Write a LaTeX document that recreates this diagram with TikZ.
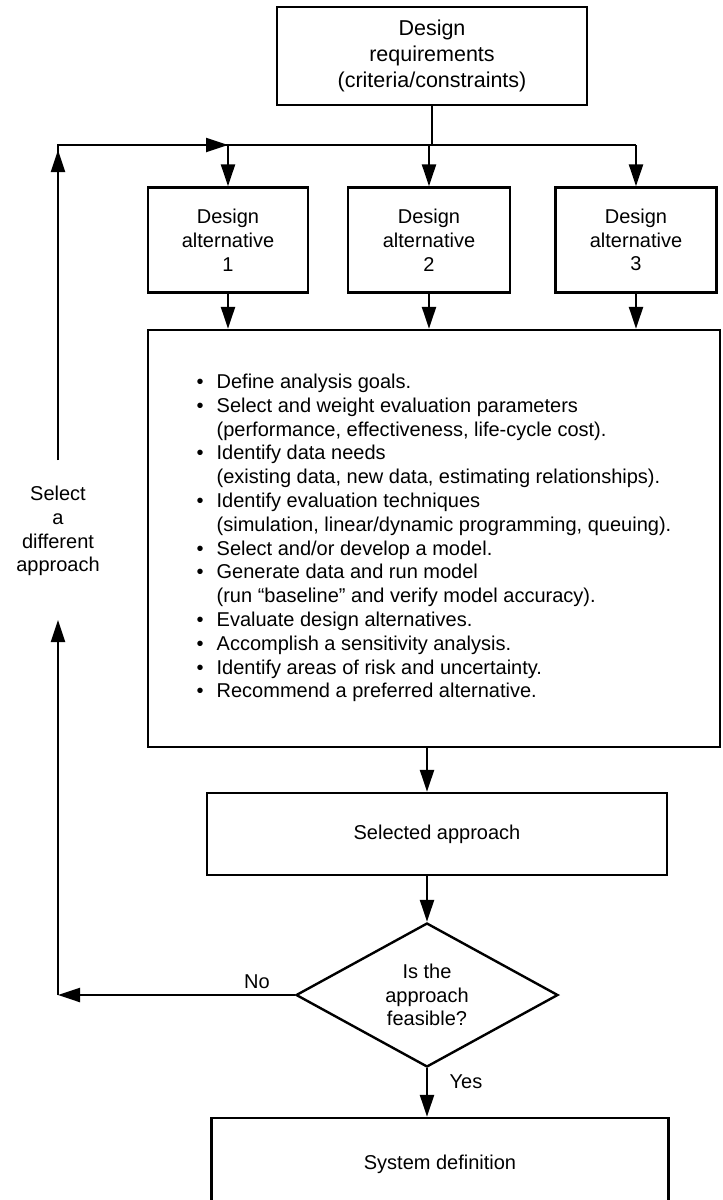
\documentclass[tikz,border=0pt]{standalone}
\usepackage{fontspec}
\setmainfont{Liberation Sans}
\usetikzlibrary{arrows.meta,shapes.geometric}

\begin{document}
\begin{tikzpicture}[x=1pt,y=-1pt,
    font=\fontsize{20}{23.8}\selectfont,
    box/.style={draw, line width=2.4pt, align=center, inner sep=0pt},
    line/.style={line width=2.3pt},
    flow/.style={line width=2.3pt, -{Triangle[length=22pt,width=14pt]}}]
  \useasboundingbox (0,0) rectangle (723,1200);
  \clip (0,0) rectangle (723,1200);

  \node[box, minimum width=310pt, minimum height=98pt, font=\fontsize{21.5}{26}\selectfont] (req) at (432,56) {Design\\requirements\\(criteria/constraints)};
  \node[box, minimum width=160pt, minimum height=105pt] (alt1) at (228,240) {Design\\alternative\\1};
  \node[box, minimum width=162pt, minimum height=105pt] (alt2) at (429,240) {Design\\alternative\\2};
  \node[box, minimum width=161pt, minimum height=105pt] (alt3) at (636,240) {Design\\alternative\\3};

  \node[box, minimum width=572pt, minimum height=417pt] (eval) at (434,538.5) {%
    \begin{tabular}{@{}c@{\hspace{13pt}}l@{}}
      \textbullet & Define analysis goals.\\
      \textbullet & Select and weight evaluation parameters\\
                  & (performance, effectiveness, life-cycle cost).\\
      \textbullet & Identify data needs\\
                  & (existing data, new data, estimating relationships).\\
      \textbullet & Identify evaluation techniques\\
                  & (simulation, linear/dynamic programming, queuing).\\
      \textbullet & Select and/or develop a model.\\
      \textbullet & Generate data and run model\\
                  & (run “baseline” and verify model accuracy).\\
      \textbullet & Evaluate design alternatives.\\
      \textbullet & Accomplish a sensitivity analysis.\\
      \textbullet & Identify areas of risk and uncertainty.\\
      \textbullet & Recommend a preferred alternative.
    \end{tabular}};

  \node[box, minimum width=460pt, minimum height=82pt] (sel) at (437,834) {Selected approach};
  \node[diamond, draw, line width=2.4pt, aspect=1.8, inner sep=0pt, minimum width=262pt, minimum height=144pt, align=center] (feas) at (427,995) {Is the\\approach\\feasible?};
  \node[box, minimum width=457pt, minimum height=92pt] (sys) at (440,1164) {System definition};

  \node (nolbl) at (257,982) {No};
  \node (yeslbl) at (466,1082) {Yes};
  \node[align=center] (other) at (58,531) {Select\\a\\different\\approach};

  % feedback loop on the left
  \coordinate (looptop) at (58,145);
  \coordinate (loopup) at (58,460);
  \coordinate (uptip) at (58,150);
  \coordinate (lowcorner) at (feas.west -| looptop);
  \coordinate (lowtip) at (58,620);

  \draw[line] (req.south) -- (req.south |- looptop);
  \draw[line] (loopup) -- (looptop) -- (alt3.north |- looptop);
  \draw[flow] (loopup) -- (uptip);
  \draw[flow] (looptop) -- (alt1.north |- looptop);
  \foreach \n in {alt1,alt2,alt3} {
    \draw[flow] (\n.north |- looptop) -- (\n.north);
    \draw[flow] (\n.south) -- (\n.south |- eval.north);
  }

  \draw[flow] (eval.south -| feas.north) -- (sel.north -| feas.north);
  \draw[flow] (sel.south -| feas.north) -- (feas.north);
  \draw[flow] (feas.south) -- (feas.south |- sys.north);
  \draw[flow] (feas.west) -- (lowcorner);
  \draw[flow] (lowcorner) -- (lowtip);
\end{tikzpicture}
\end{document}
